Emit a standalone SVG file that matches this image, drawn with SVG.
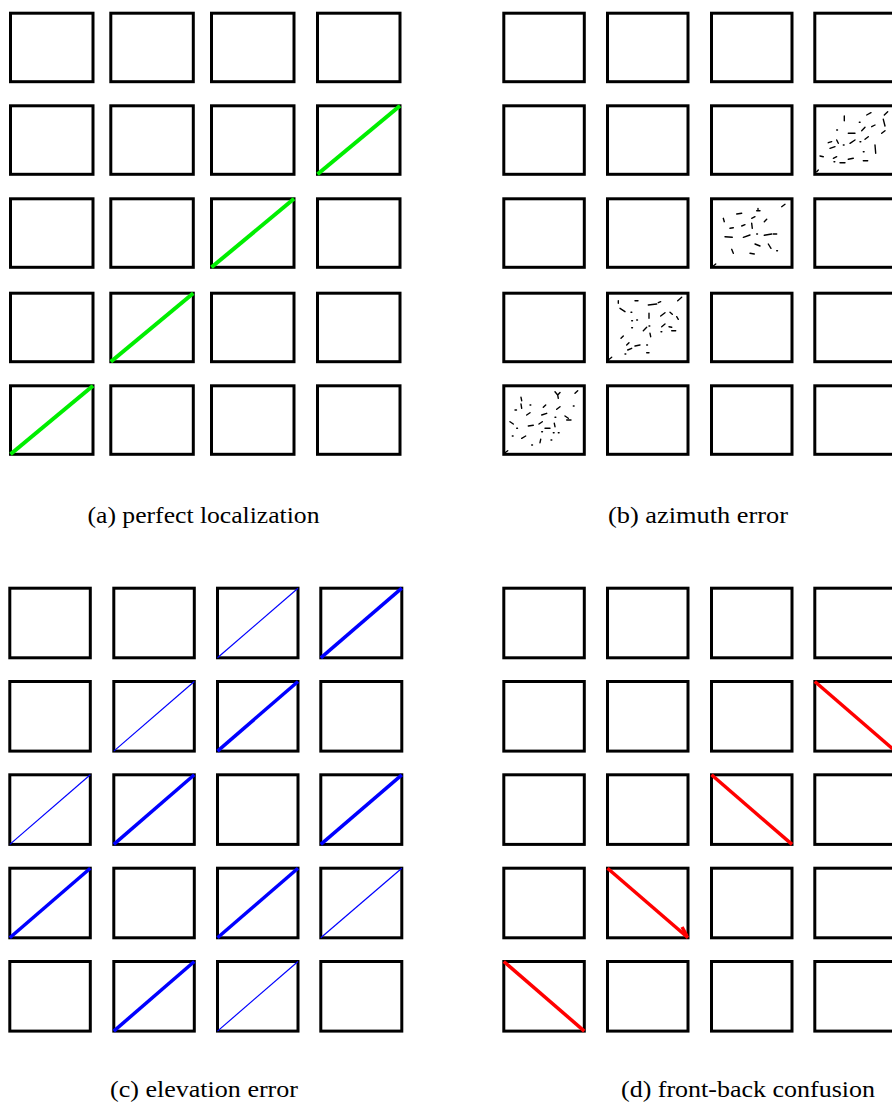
<svg xmlns="http://www.w3.org/2000/svg" width="892" height="1104" viewBox="0 0 892 1104">
<style>
.box{fill:#fff;stroke:#000;stroke-width:3}
.g{stroke:#00ee00;stroke-width:4;fill:none}
.bt{stroke:#0000ff;stroke-width:3.5;fill:none}
.bn{stroke:#0000ff;stroke-width:1.2;fill:none}
.r{stroke:#ff0000;stroke-width:3.5;fill:none}
.d{stroke:#000;stroke-width:1.4;fill:none;stroke-linecap:round}
</style>
<rect width="892" height="1104" fill="#fff"/>

<!-- Panel (a) -->
<g id="panel-a">
<g id="a-r1c1"><rect class="box" x="10.5" y="13.2" width="82.5" height="68.5"/></g>
<g id="a-r1c2"><rect class="box" x="110.8" y="13.2" width="82.5" height="68.5"/></g>
<g id="a-r1c3"><rect class="box" x="211.5" y="13.2" width="82.5" height="68.5"/></g>
<g id="a-r1c4"><rect class="box" x="317.5" y="13.2" width="82.5" height="68.5"/></g>
<g id="a-r2c1"><rect class="box" x="10.5" y="105.8" width="82.5" height="68.5"/></g>
<g id="a-r2c2"><rect class="box" x="110.8" y="105.8" width="82.5" height="68.5"/></g>
<g id="a-r2c3"><rect class="box" x="211.5" y="105.8" width="82.5" height="68.5"/></g>
<g id="a-r2c4"><rect class="box" x="317.5" y="105.8" width="82.5" height="68.5"/><line class="g" x1="317.5" y1="174.3" x2="400" y2="105.8"/></g>
<g id="a-r3c1"><rect class="box" x="10.5" y="198.8" width="82.5" height="68.5"/></g>
<g id="a-r3c2"><rect class="box" x="110.8" y="198.8" width="82.5" height="68.5"/></g>
<g id="a-r3c3"><rect class="box" x="211.5" y="198.8" width="82.5" height="68.5"/><line class="g" x1="211.5" y1="267.3" x2="294" y2="198.8"/></g>
<g id="a-r3c4"><rect class="box" x="317.5" y="198.8" width="82.5" height="68.5"/></g>
<g id="a-r4c1"><rect class="box" x="10.5" y="293.2" width="82.5" height="68.5"/></g>
<g id="a-r4c2"><rect class="box" x="110.8" y="293.2" width="82.5" height="68.5"/><line class="g" x1="110.8" y1="361.7" x2="193.3" y2="293.2"/></g>
<g id="a-r4c3"><rect class="box" x="211.5" y="293.2" width="82.5" height="68.5"/></g>
<g id="a-r4c4"><rect class="box" x="317.5" y="293.2" width="82.5" height="68.5"/></g>
<g id="a-r5c1"><rect class="box" x="10.5" y="385.8" width="82.5" height="68.5"/><line class="g" x1="10.5" y1="454.3" x2="93" y2="385.8"/></g>
<g id="a-r5c2"><rect class="box" x="110.8" y="385.8" width="82.5" height="68.5"/></g>
<g id="a-r5c3"><rect class="box" x="211.5" y="385.8" width="82.5" height="68.5"/></g>
<g id="a-r5c4"><rect class="box" x="317.5" y="385.8" width="82.5" height="68.5"/></g>
<text x="203.5" y="523" font-family="'Liberation Serif', serif" font-size="23" text-anchor="middle" fill="#000" textLength="232" lengthAdjust="spacingAndGlyphs">(a) perfect localization</text>
</g>

<!-- Panel (b) -->
<g id="panel-b">
<g id="b-r1c1"><rect class="box" x="503.8" y="13.2" width="80.5" height="68.5"/></g>
<g id="b-r1c2"><rect class="box" x="607.5" y="13.2" width="80.5" height="68.5"/></g>
<g id="b-r1c3"><rect class="box" x="711.5" y="13.2" width="80.5" height="68.5"/></g>
<g id="b-r1c4"><rect class="box" x="814.8" y="13.2" width="80.5" height="68.5"/></g>
<g id="b-r2c1"><rect class="box" x="503.8" y="105.8" width="80.5" height="68.5"/></g>
<g id="b-r2c2"><rect class="box" x="607.5" y="105.8" width="80.5" height="68.5"/></g>
<g id="b-r2c3"><rect class="box" x="711.5" y="105.8" width="80.5" height="68.5"/></g>
<g id="b-r2c4"><rect class="box" x="814.8" y="105.8" width="80.5" height="68.5"/>
<path class="d" d="M844.3 116V120.7M866.7 115L871 112.7M884.3 115L887.7 111.7M859.3 122.3h0.8M883.3 119.3L885 126M836.7 130h0.8M848.3 133.3H855M861.7 130.7L865 127.3M871.7 126.7L875 125M881.7 133.3L885 130.7M828.3 142.7L831.7 141.7M836.7 140L838.3 143.3M843.3 145h0.8M850 143.3L855 140M860 141.7h0.8M865 139.3L868.3 136.7M875 145L875.7 153.3M830 148.3L835 146.7M820 156L823.3 156.7M833.3 158.3L836.7 156.7M840 162.7H845M848.3 159.3L853.3 158.3M863.3 160.7H867.7M863.3 151.7h0.8M834 161.7h0.8M816.7 171.7L818.3 170"/></g>
<g id="b-r3c1"><rect class="box" x="503.8" y="198.8" width="80.5" height="68.5"/></g>
<g id="b-r3c2"><rect class="box" x="607.5" y="198.8" width="80.5" height="68.5"/></g>
<g id="b-r3c3"><rect class="box" x="711.5" y="198.8" width="80.5" height="68.5"/>
<path class="d" d="M781.7 206.7L785 204.3M736.7 214L741.7 213.3M723.3 218.3L724.3 221.7M756.7 210.7H760M758 208.5v1M751.7 218.3L755 216.7M764.3 221.7L766.7 219.3M730 228.3L733.3 227.7M741.7 226L745 224.7M751.7 223.3L752.3 228.3M725 236.7L732.3 237.3M743.3 237.3L750 235M756.7 234h0.8M764.3 235.3L771.7 234M773.3 234H776.7M731.7 249.3L733.3 253.3M755 244L760 246M768.3 244L771 248.3M776.7 250.7h0.8M750 253.3L754.3 254M713.3 266L715.7 264"/></g>
<g id="b-r3c4"><rect class="box" x="814.8" y="198.8" width="80.5" height="68.5"/></g>
<g id="b-r4c1"><rect class="box" x="503.8" y="293.2" width="80.5" height="68.5"/></g>
<g id="b-r4c2"><rect class="box" x="607.5" y="293.2" width="80.5" height="68.5"/>
<path class="d" d="M618.3 300.7V303.3M635 300.7H638M648.3 305L656.7 304M658.3 302.7L660.7 301.7M677.7 300.7L681.7 297.3M620 308.3L625 311.7M631 312.3h0.8M649 313.3V318.3M660.7 316L665 312.7M670 312.3L672.3 314.3M676.7 316.7L678.3 319.3M631.7 320.7h0.8M636.7 320h0.8M631.7 327.7h0.8M643.3 330.7L646.7 327.3M649 326h0.8M650 333.3L650.7 336.7M661.7 326.7L665 324M661 331.7h0.8M669 326.7L671.7 327.3M671.7 330.7H675.7M621 338.3L623.3 336M626.7 345L629 342.7M627.7 350L631.7 348.3M635 346L640 345M646.7 345h0.8M646.7 352.7H649M625 354h0.8M608.3 360L611.7 357.3"/></g>
<g id="b-r4c3"><rect class="box" x="711.5" y="293.2" width="80.5" height="68.5"/></g>
<g id="b-r4c4"><rect class="box" x="814.8" y="293.2" width="80.5" height="68.5"/></g>
<g id="b-r5c1"><rect class="box" x="503.8" y="385.8" width="80.5" height="68.5"/>
<path class="d" d="M555 391.7L557.7 395L558.3 398.3M557.7 395L560 392.5M575 393.3L577.7 390.7M521 397.3L521.7 400.7M530 405h0.8M543.3 407.3L545.7 405M556.7 409.3L560 406.7M573.3 406h0.8M515 410h1.5M521 404L521.7 408.3M526.7 415L530 412.7M541.7 415L546.7 413.3M555 417.3h0.8M565 416L568.3 418.3M566.7 420H571M510 421.7L513.3 424M516.7 428.3h0.8M528.3 426L533.3 425.3M539 424L542.3 421.7M545 428.3H550M554.3 423.3L555 426.7M541.7 431.7h0.8M553.3 432.7h0.8M558.3 432.7h0.8M512.3 436h0.8M521.7 438.3L525.7 436M540 442.7L540.7 439.3M551 440h0.8M531.7 445h0.8M505 452.7L507.7 450.7"/></g>
<g id="b-r5c2"><rect class="box" x="607.5" y="385.8" width="80.5" height="68.5"/></g>
<g id="b-r5c3"><rect class="box" x="711.5" y="385.8" width="80.5" height="68.5"/></g>
<g id="b-r5c4"><rect class="box" x="814.8" y="385.8" width="80.5" height="68.5"/></g>
<text x="698" y="523" font-family="'Liberation Serif', serif" font-size="23" text-anchor="middle" fill="#000" textLength="180" lengthAdjust="spacingAndGlyphs">(b) azimuth error</text>
</g>

<!-- Panel (c) -->
<g id="panel-c">
<g id="c-r1c1"><rect class="box" x="9.8" y="588.2" width="80.5" height="69.6"/></g>
<g id="c-r1c2"><rect class="box" x="113.8" y="588.2" width="80.5" height="69.6"/></g>
<g id="c-r1c3"><rect class="box" x="217.5" y="588.2" width="80.5" height="69.6"/><line class="bn" x1="217.5" y1="657.8" x2="298" y2="588.2"/></g>
<g id="c-r1c4"><rect class="box" x="320.8" y="588.2" width="81" height="69.6"/><line class="bt" x1="320.8" y1="657.8" x2="401.8" y2="588.2"/></g>
<g id="c-r2c1"><rect class="box" x="9.8" y="681.5" width="80.5" height="69.6"/></g>
<g id="c-r2c2"><rect class="box" x="113.8" y="681.5" width="80.5" height="69.6"/><line class="bn" x1="113.8" y1="751.1" x2="194.3" y2="681.5"/></g>
<g id="c-r2c3"><rect class="box" x="217.5" y="681.5" width="80.5" height="69.6"/><line class="bt" x1="217.5" y1="751.1" x2="298" y2="681.5"/></g>
<g id="c-r2c4"><rect class="box" x="320.8" y="681.5" width="81" height="69.6"/></g>
<g id="c-r3c1"><rect class="box" x="9.8" y="774.8" width="80.5" height="69.6"/><line class="bn" x1="9.8" y1="844.4" x2="90.3" y2="774.8"/></g>
<g id="c-r3c2"><rect class="box" x="113.8" y="774.8" width="80.5" height="69.6"/><line class="bt" x1="113.8" y1="844.4" x2="194.3" y2="774.8"/></g>
<g id="c-r3c3"><rect class="box" x="217.5" y="774.8" width="80.5" height="69.6"/></g>
<g id="c-r3c4"><rect class="box" x="320.8" y="774.8" width="81" height="69.6"/><line class="bt" x1="320.8" y1="844.4" x2="401.8" y2="774.8"/></g>
<g id="c-r4c1"><rect class="box" x="9.8" y="868.2" width="80.5" height="69.6"/><line class="bt" x1="9.8" y1="937.8" x2="90.3" y2="868.2"/></g>
<g id="c-r4c2"><rect class="box" x="113.8" y="868.2" width="80.5" height="69.6"/></g>
<g id="c-r4c3"><rect class="box" x="217.5" y="868.2" width="80.5" height="69.6"/><line class="bt" x1="217.5" y1="937.8" x2="298" y2="868.2"/></g>
<g id="c-r4c4"><rect class="box" x="320.8" y="868.2" width="81" height="69.6"/><line class="bn" x1="320.8" y1="937.8" x2="401.8" y2="868.2"/></g>
<g id="c-r5c1"><rect class="box" x="9.8" y="961.5" width="80.5" height="69.6"/></g>
<g id="c-r5c2"><rect class="box" x="113.8" y="961.5" width="80.5" height="69.6"/><line class="bt" x1="113.8" y1="1031.1" x2="194.3" y2="961.5"/></g>
<g id="c-r5c3"><rect class="box" x="217.5" y="961.5" width="80.5" height="69.6"/><line class="bn" x1="217.5" y1="1031.1" x2="298" y2="961.5"/></g>
<g id="c-r5c4"><rect class="box" x="320.8" y="961.5" width="81" height="69.6"/></g>
<text x="204" y="1097" font-family="'Liberation Serif', serif" font-size="23" text-anchor="middle" fill="#000" textLength="188" lengthAdjust="spacingAndGlyphs">(c) elevation error</text>
</g>

<!-- Panel (d) -->
<g id="panel-d">
<g id="d-r1c1"><rect class="box" x="503.8" y="588.2" width="80.5" height="69.6"/></g>
<g id="d-r1c2"><rect class="box" x="607.5" y="588.2" width="80.5" height="69.6"/></g>
<g id="d-r1c3"><rect class="box" x="711.5" y="588.2" width="80.5" height="69.6"/></g>
<g id="d-r1c4"><rect class="box" x="814.8" y="588.2" width="80.5" height="69.6"/></g>
<g id="d-r2c1"><rect class="box" x="503.8" y="681.5" width="80.5" height="69.6"/></g>
<g id="d-r2c2"><rect class="box" x="607.5" y="681.5" width="80.5" height="69.6"/></g>
<g id="d-r2c3"><rect class="box" x="711.5" y="681.5" width="80.5" height="69.6"/></g>
<g id="d-r2c4"><rect class="box" x="814.8" y="681.5" width="80.5" height="69.6"/><line class="r" x1="814.8" y1="681.5" x2="895.3" y2="751.1"/></g>
<g id="d-r3c1"><rect class="box" x="503.8" y="774.8" width="80.5" height="69.6"/></g>
<g id="d-r3c2"><rect class="box" x="607.5" y="774.8" width="80.5" height="69.6"/></g>
<g id="d-r3c3"><rect class="box" x="711.5" y="774.8" width="80.5" height="69.6"/><line class="r" x1="711.5" y1="774.8" x2="792" y2="844.4"/></g>
<g id="d-r3c4"><rect class="box" x="814.8" y="774.8" width="80.5" height="69.6"/></g>
<g id="d-r4c1"><rect class="box" x="503.8" y="868.2" width="80.5" height="69.6"/></g>
<g id="d-r4c2"><rect class="box" x="607.5" y="868.2" width="80.5" height="69.6"/><line class="r" x1="607.5" y1="868.2" x2="688" y2="937.8"/><line class="r" x1="682" y1="927" x2="687" y2="936" stroke-width="2.5"/></g>
<g id="d-r4c3"><rect class="box" x="711.5" y="868.2" width="80.5" height="69.6"/></g>
<g id="d-r4c4"><rect class="box" x="814.8" y="868.2" width="80.5" height="69.6"/></g>
<g id="d-r5c1"><rect class="box" x="503.8" y="961.5" width="80.5" height="69.6"/><line class="r" x1="503.8" y1="961.5" x2="584.3" y2="1031.1"/></g>
<g id="d-r5c2"><rect class="box" x="607.5" y="961.5" width="80.5" height="69.6"/></g>
<g id="d-r5c3"><rect class="box" x="711.5" y="961.5" width="80.5" height="69.6"/></g>
<g id="d-r5c4"><rect class="box" x="814.8" y="961.5" width="80.5" height="69.6"/></g>
<text x="748" y="1097" font-family="'Liberation Serif', serif" font-size="23" text-anchor="middle" fill="#000" textLength="254" lengthAdjust="spacingAndGlyphs">(d) front-back confusion</text>
</g>

<g id="connectors"/>
</svg>
